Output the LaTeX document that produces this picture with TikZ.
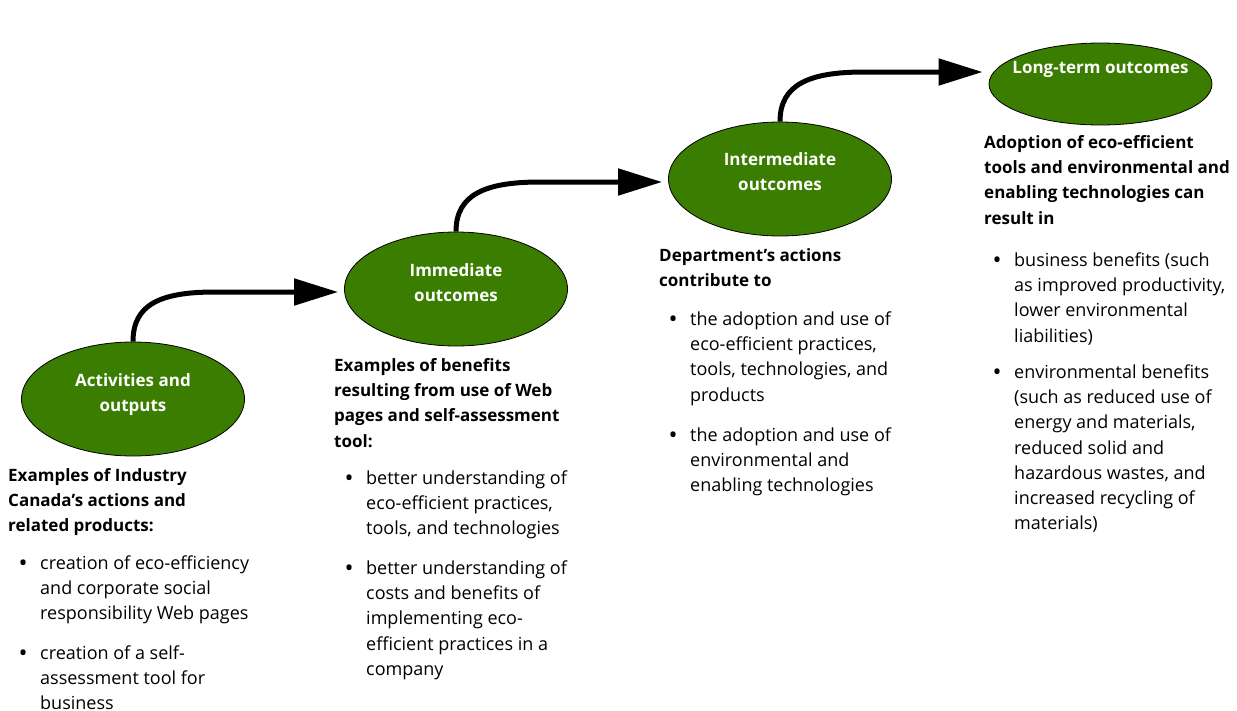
\documentclass[tikz,border=0pt]{standalone}
\usepackage{fontspec}
\setmainfont{Open Sans}
\usetikzlibrary{arrows.meta,shapes.geometric}
\definecolor{leaf}{RGB}{58,125,0}
\newcommand{\myhead}[1]{\parbox[t]{320pt}{\fontsize{17}{25.2}\selectfont\raggedright\bfseries #1}}
\newcommand{\mybul}{\makebox[21pt][l]{\hspace*{-0.5pt}\raisebox{-1.6pt}{\fontsize{24}{0}\selectfont •}}}
\newcommand{\myitem}[1]{\parbox[t]{260pt}{\raggedright\let\\\newline\hangindent=21pt\hangafter=1\noindent\mybul#1}}
\begin{document}
\begin{tikzpicture}[x=1pt,y=-1pt,
  oval/.style={ellipse, draw=black, line width=0.8pt, fill=leaf, minimum width=223pt, minimum height=114pt, inner sep=0pt},
  otext/.style={text=white, font=\fontsize{17}{25}\selectfont\bfseries, align=center, inner sep=0pt},
  flow/.style={line width=5pt, -{Triangle[length=44pt,width=26pt]}},
  para/.style={anchor=base west, inner sep=0pt, font=\fontsize{18}{25.2}\selectfont}]
\useasboundingbox (0,0) rectangle (1237,710);

% ellipses
\node[oval] (e1) at (133,399) {};
\node[oval] (e2) at (456,289) {};
\node[oval] (e3) at (780,179) {};
\node[oval, minimum height=82pt] (e4) at (1100.5,84) {};

\node[otext] (t1) at (133,394.5) {Activities and\\outputs};
\node[otext] (t2) at (456,282.5) {Immediate\\outcomes};
\node[otext] (t3) at (780,172) {Intermediate\\outcomes};
\node[otext] (t4) at (1100.5,69) {Long-term outcomes};

% arrows
\coordinate (h1) at (215,292);
\coordinate (h2) at (540,182);
\coordinate (h3) at (864,72);
\draw[flow] (e1.north) .. controls +(0,-37) and +(-55,0) .. (h1) -- ([shift={(-6,3)}]e2.west);
\draw[flow] (e2.north) .. controls +(0,-37) and +(-55,0) .. (h2) -- ([shift={(-6,3)}]e3.west);
\draw[flow] (e3.north) .. controls +(0,-37) and +(-55,0) .. (h3) -- ([shift={(-6,-12)}]e4.west);

% block 1
\node[para] (a0) at (8,481.5) {\myhead{Examples of Industry\\Canada’s actions and\\related products:}};
\node[para] (a1) at (19,569.5) {\myitem{creation of eco-efficiency\\and corporate social\\responsibility Web pages}};
\node[para] (a2) at (19,659.5) {\myitem{creation of a self-\\assessment tool for\\business}};

% block 2
\node[para] (b0) at (334,371.5) {\myhead{Examples of benefits\\resulting from use of Web\\pages and self-assessment\\tool:}};
\node[para] (b1) at (345,484.5) {\myitem{better understanding of\\eco-efficient practices,\\tools, and technologies}};
\node[para] (b2) at (345,574.5) {\myitem{better understanding of\\costs and benefits of\\implementing eco-\\efficient practices in a\\company}};

% block 3
\node[para] (c0) at (659,261.5) {\myhead{Department’s actions\\contribute to}};
\node[para] (c1) at (669,325.5) {\myitem{the adoption and use of\\eco-efficient practices,\\tools, technologies, and\\products}};
\node[para] (c2) at (669,441.5) {\myitem{the adoption and use of\\environmental and\\enabling technologies}};

% block 4
\node[para] (d0) at (984,148.5) {\myhead{Adoption of eco-efficient\\tools and environmental and\\enabling technologies can\\result in}};
\node[para] (d1) at (993,266.5) {\myitem{business benefits (such\\as improved productivity,\\lower environmental\\liabilities)}};
\node[para] (d2) at (993,378.5) {\myitem{environmental benefits\\(such as reduced use of\\energy and materials,\\reduced solid and\\hazardous wastes, and\\increased recycling of\\materials)}};
\end{tikzpicture}
\end{document}
